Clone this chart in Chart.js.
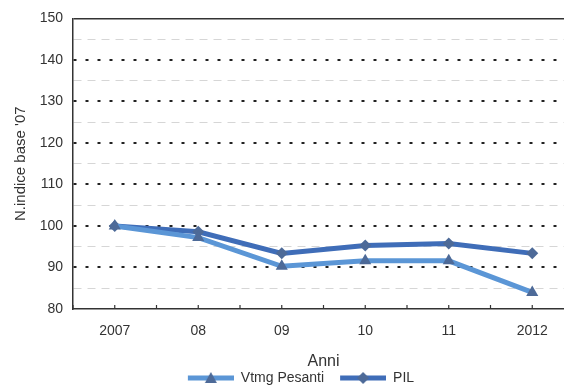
<!DOCTYPE html>
<html>
<head>
<meta charset="utf-8">
<script src="https://cdn.jsdelivr.net/npm/chart.js@4/dist/chart.umd.min.js"></script>
<style>
	html, body { margin: 0; padding: 0; background: #fff; overflow: hidden; }
	#holder { width: 600px; height: 390px; }
</style>
</head>
<body>
<div id="holder"><canvas id="graphIndex"></canvas></div>
<script>
var years = ["2007", "08", "09", "10", "11", "2012"];
var vtmgPesanti = [100, 97.2, 90.3, 91.6, 91.6, 84];
var pil = [100, 98.6, 93.4, 95.3, 95.8, 93.4];
var yTicks = [80, 90, 100, 110, 120, 130, 140, 150];

var lightBlue = '#5b96d6';
var darkBlue = '#3f6db8';
var markerColor = '#4d6a98';

// legend sample: thick line with the marker in the middle, some blank space on the left
function legendSample(lineColor, style) {
	var c = document.createElement('canvas');
	c.width = 62;
	c.height = 14;
	var g = c.getContext('2d');
	g.strokeStyle = lineColor;
	g.lineWidth = 5;
	g.beginPath();
	g.moveTo(16, 7);
	g.lineTo(62, 7);
	g.stroke();
	g.fillStyle = markerColor;
	g.beginPath();
	if (style == 'triangle') {
		g.moveTo(39, 1);
		g.lineTo(45, 12);
		g.lineTo(33, 12);
	} else {
		g.moveTo(39, 1);
		g.lineTo(45, 7);
		g.lineTo(39, 13);
		g.lineTo(33, 7);
	}
	g.closePath();
	g.fill();
	return c;
}

// small tick marks pointing up from the x axis, at categories and between them
var innerTicks = {
	id: 'innerTicks',
	afterDatasetsDraw: function(chart) {
		var x = chart.scales.x;
		var ctx = chart.ctx;
		var bottom = chart.chartArea.bottom;
		ctx.save();
		ctx.strokeStyle = '#333';
		ctx.lineWidth = 1.2;
		for (var i = -0.5; i <= years.length - 0.5; i += 0.5) {
			var px = x.getPixelForValue(i);
			ctx.beginPath();
			ctx.moveTo(px, bottom);
			ctx.lineTo(px, bottom - 4);
			ctx.stroke();
		}
		ctx.restore();
	}
};

var ctx = document.getElementById('graphIndex').getContext('2d');

var indexChart = new Chart(ctx, {
	type: 'line',
	data: {
		labels: years,
		datasets: [{
			label: 'Vtmg Pesanti',
			data: vtmgPesanti,
			borderColor: lightBlue,
			backgroundColor: markerColor,
			borderWidth: 5,
			pointStyle: 'triangle',
			pointRadius: 7,
			pointBorderWidth: 0,
			pointBackgroundColor: markerColor,
			tension: 0
		}, {
			label: 'PIL',
			data: pil,
			borderColor: darkBlue,
			backgroundColor: markerColor,
			borderWidth: 5,
			pointStyle: 'rectRot',
			pointRadius: 6,
			pointBorderWidth: 0,
			pointBackgroundColor: markerColor,
			tension: 0
		}]
	},
	options: {
		responsive: true,
		maintainAspectRatio: false,
		animation: false,
		layout: { padding: { left: 12, right: 26, top: 18, bottom: -5 } },
		plugins: {
			tooltip: { enabled: false },
			legend: {
				position: 'bottom',
				labels: {
					usePointStyle: true,
					pointStyleWidth: 62,
					boxHeight: 14,
					color: '#333',
					font: { family: 'Liberation Sans', size: 14 },
					padding: 0,
					generateLabels: function(chart) {
						return [
							{ text: 'Vtmg Pesanti', pointStyle: legendSample(lightBlue, 'triangle'), datasetIndex: 0, fontColor: '#333' },
							{ text: 'PIL', pointStyle: legendSample(darkBlue, 'diamond'), datasetIndex: 1, fontColor: '#333' }
						];
					}
				}
			}
		},
		scales: {
			x: {
				offset: true,
				grid: { display: true, drawOnChartArea: false, drawTicks: false },
				border: { display: true, color: '#333', width: 1.5 },
				ticks: {
					color: '#333',
					padding: 14,
					font: { family: 'Liberation Sans', size: 14 }
				},
				title: {
					display: true,
					text: 'Anni',
					color: '#333',
					padding: { top: -2, bottom: 0 },
					font: { family: 'Liberation Sans', size: 16 }
				}
			},
			y: {
				min: 80,
				max: 150,
				afterFit: function(scale) { scale.width = 61; },
				ticks: {
					stepSize: 5,
					autoSkip: false,
					color: '#333',
					padding: 10,
					font: { family: 'Liberation Sans', size: 14 },
					callback: function(value) {
						return yTicks.indexOf(value) >= 0 ? value : '';
					}
				},
				grid: {
					drawTicks: false,
					color: function(c) {
						if (!c.tick) return '#333';
						var v = c.tick.value;
						if (v == 80) return 'rgba(0,0,0,0)';
						if (v == 150) return '#333';
						if (v % 10 == 0) return '#222';
						return '#d6d6d6';
					},
					lineWidth: function(c) {
						if (!c.tick) return 1;
						var v = c.tick.value;
						if (v == 150) return 1.5;
						if (v % 10 == 0) return 2;
						return 1;
					}
				},
				border: {
					display: true,
					color: '#333',
					width: 1.5,
					dash: function(c) {
						if (!c.tick) return [];
						var v = c.tick.value;
						if (v == 150 || v == 80) return [];
						if (v % 10 == 0) return [3, 9];
						return [8, 6];
					}
				},
				title: {
					display: true,
					text: "N.indice base '07",
					color: '#333',
					padding: { top: 0, bottom: 4 },
					font: { family: 'Liberation Sans', size: 15 }
				}
			}
		}
	},
	plugins: [innerTicks]
});
</script>
</body>
</html>
